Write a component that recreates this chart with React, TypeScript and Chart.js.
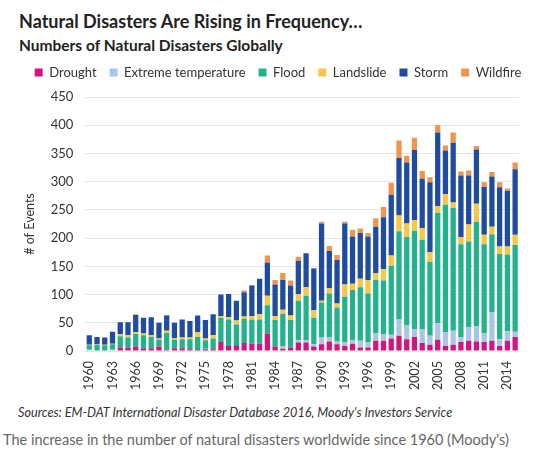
import React, { useEffect, useRef } from 'react';
import { Chart, registerables } from 'chart.js';

Chart.register(...registerables);

const years = [
  '1960', '1961', '1962', '1963', '1964', '1965', '1966', '1967', '1968', '1969',
  '1970', '1971', '1972', '1973', '1974', '1975', '1976', '1977', '1978', '1979',
  '1980', '1981', '1982', '1983', '1984', '1985', '1986', '1987', '1988', '1989',
  '1990', '1991', '1992', '1993', '1994', '1995', '1996', '1997', '1998', '1999',
  '2000', '2001', '2002', '2003', '2004', '2005', '2006', '2007', '2008', '2009',
  '2010', '2011', '2012', '2013', '2014', '2015',
];

const shownYearLabels = [
  '1960', '1963', '1966', '1969', '1972', '1975', '1978', '1981', '1984', '1987',
  '1990', '1993', '1996', '1999', '2002', '2005', '2008', '2011', '2014',
];

const drought = [
  1, 1, 1, 1, 6, 6, 8, 5, 5, 8,
  2, 5, 5, 3, 3, 3, 3, 16, 9, 10,
  14, 13, 13, 31, 8, 4, 6, 15, 15, 8,
  12, 17, 12, 9, 13, 6, 6, 18, 18, 22,
  27, 21, 25, 14, 11, 20, 9, 11, 16, 18,
  17, 16, 18, 9, 18, 25,
];

const extremeTemperature = [
  1, 0, 0, 1, 0, 0, 0, 0, 0, 0,
  0, 0, 0, 0, 0, 1, 0, 0, 0, 0,
  0, 0, 0, 0, 0, 4, 0, 4, 4, 4,
  12, 7, 5, 6, 6, 12, 9, 13, 12, 7,
  29, 24, 14, 25, 16, 29, 24, 25, 9, 24,
  27, 16, 51, 12, 17, 9,
];

const flood = [
  8, 10, 9, 10, 20, 18, 22, 23, 20, 12,
  30, 15, 16, 18, 22, 15, 19, 43, 47, 37,
  43, 43, 43, 50, 47, 58, 49, 70, 79, 47,
  62, 78, 60, 81, 89, 95, 87, 95, 95, 122,
  156, 157, 174, 158, 131, 196, 226, 218, 164, 152,
  185, 157, 138, 151, 136, 154,
];

const landslide = [
  1, 1, 1, 1, 4, 4, 3, 3, 3, 2,
  4, 3, 3, 3, 8, 3, 6, 3, 4, 7,
  4, 6, 9, 17, 7, 7, 8, 12, 15, 13,
  3, 9, 7, 22, 11, 15, 24, 12, 20, 18,
  28, 24, 19, 21, 17, 12, 19, 9, 13, 30,
  32, 17, 13, 13, 14, 18,
];

const storm = [
  17, 13, 13, 21, 21, 23, 31, 28, 32, 28,
  27, 27, 32, 29, 30, 33, 37, 38, 41, 35,
  43, 54, 63, 59, 56, 53, 53, 59, 60, 74,
  137, 66, 77, 108, 84, 81, 77, 82, 92, 108,
  102, 108, 124, 87, 124, 130, 77, 106, 109, 87,
  96, 85, 89, 105, 99, 116,
];

const wildfire = [
  0, 0, 0, 0, 0, 0, 1, 0, 0, 0,
  1, 0, 0, 0, 0, 0, 0, 0, 0, 0,
  3, 1, 0, 12, 8, 12, 9, 7, 0, 1,
  3, 9, 9, 3, 12, 8, 6, 15, 18, 21,
  31, 12, 22, 14, 9, 13, 9, 18, 7, 9,
  6, 8, 8, 9, 4, 12,
];

const seriesNames = ['Drought', 'Extreme temperature', 'Flood', 'Landslide', 'Storm', 'Wildfire'];
const seriesValues = [drought, extremeTemperature, flood, landslide, storm, wildfire];
const seriesColors = ['#d3137f', '#a8c6e6', '#23b28b', '#f7c843', '#1f4c9e', '#f0954b'];

const FONT = "Lato, 'Noto Sans', sans-serif";

export default function App() {
  const canvasRef = useRef<HTMLCanvasElement>(null);

  useEffect(() => {
    if (!canvasRef.current) return;
    const chart = new Chart(canvasRef.current, {
      type: 'bar',
      data: {
        labels: years,
        datasets: seriesNames.map((name, i) => ({
          label: name,
          data: seriesValues[i],
          backgroundColor: seriesColors[i],
          borderWidth: 0,
          barPercentage: 0.68,
          categoryPercentage: 1,
          xAxisID: 'x',
          yAxisID: 'y',
        })),
      },
      options: {
        animation: false,
        responsive: false,
        layout: { padding: { left: 17, right: 0, top: 0, bottom: 10 } },
        plugins: {
          tooltip: { enabled: false },
          legend: {
            display: true,
            position: 'top',
            align: 'center',
            labels: {
              boxWidth: 8,
              boxHeight: 8,
              padding: 13,
              color: '#333',
              font: { family: FONT, size: 13 },
            },
          },
        },
        scales: {
          x: {
            stacked: true,
            grid: { display: false },
            border: { display: false },
            ticks: {
              autoSkip: false,
              minRotation: 90,
              maxRotation: 90,
              padding: 2,
              color: '#333',
              font: { family: FONT, size: 12.5 },
              callback: function (this: any, value: any) {
                const lab = this.getLabelForValue(value);
                return shownYearLabels.includes(lab) ? lab : '';
              },
            },
          },
          y: {
            stacked: true,
            min: 0,
            max: 450,
            afterFit: (scale: any) => {
              scale.width = 68.4;
            },
            grid: { color: '#e6e6e6', drawTicks: false, lineWidth: 1 },
            border: { display: false },
            ticks: {
              stepSize: 50,
              padding: 12,
              color: '#333',
              font: { family: FONT, size: 13 },
            },
            title: {
              display: true,
              text: '# of Events',
              color: '#333',
              font: { family: FONT, size: 12.5 },
              padding: { top: 5.5, bottom: 0 },
            },
          },
          topSpace: {
            type: 'linear',
            position: 'top',
            display: true,
            grid: { display: false, drawTicks: false },
            border: { display: false },
            ticks: { display: false },
            afterFit: (scale: any) => {
              scale.height = 8;
            },
          },
          rightSpace: {
            type: 'linear',
            position: 'right',
            display: true,
            grid: { display: false, drawTicks: false },
            border: { display: false },
            ticks: { display: false },
            afterFit: (scale: any) => {
              scale.width = 20;
            },
          },
        },
      },
    });
    return () => chart.destroy();
  }, []);

  return (
    <div style={{ position: 'absolute', left: 0, top: 0, width: 539, height: 463, background: '#fff', overflow: 'hidden' }}>
      <div style={{ position: 'absolute', left: 19, top: 11, fontFamily: FONT, fontWeight: 'bold', fontSize: 18, lineHeight: '20px', color: '#222', whiteSpace: 'nowrap' }}>
        Natural Disasters Are Rising in Frequency…
      </div>
      <div style={{ position: 'absolute', left: 19, top: 36, fontFamily: FONT, fontWeight: 'bold', fontSize: 15.5, lineHeight: '18px', color: '#222', whiteSpace: 'nowrap' }}>
        Numbers of Natural Disasters Globally
      </div>
      <canvas ref={canvasRef} width={539} height={349} style={{ position: 'absolute', left: 0, top: 53, width: 539, height: 349 }} />
      <div style={{ position: 'absolute', left: 18, top: 404, fontFamily: FONT, fontStyle: 'italic', fontSize: 12.7, lineHeight: '16px', color: '#333', whiteSpace: 'nowrap' }}>
        Sources: EM-DAT International Disaster Database 2016, Moody's Investors Service
      </div>
      <div style={{ position: 'absolute', left: 3, top: 431, fontFamily: FONT, fontSize: 14.5, lineHeight: '18px', color: '#666', whiteSpace: 'nowrap' }}>
        The increase in the number of natural disasters worldwide since 1960 (Moody's)
      </div>
    </div>
  );
}
